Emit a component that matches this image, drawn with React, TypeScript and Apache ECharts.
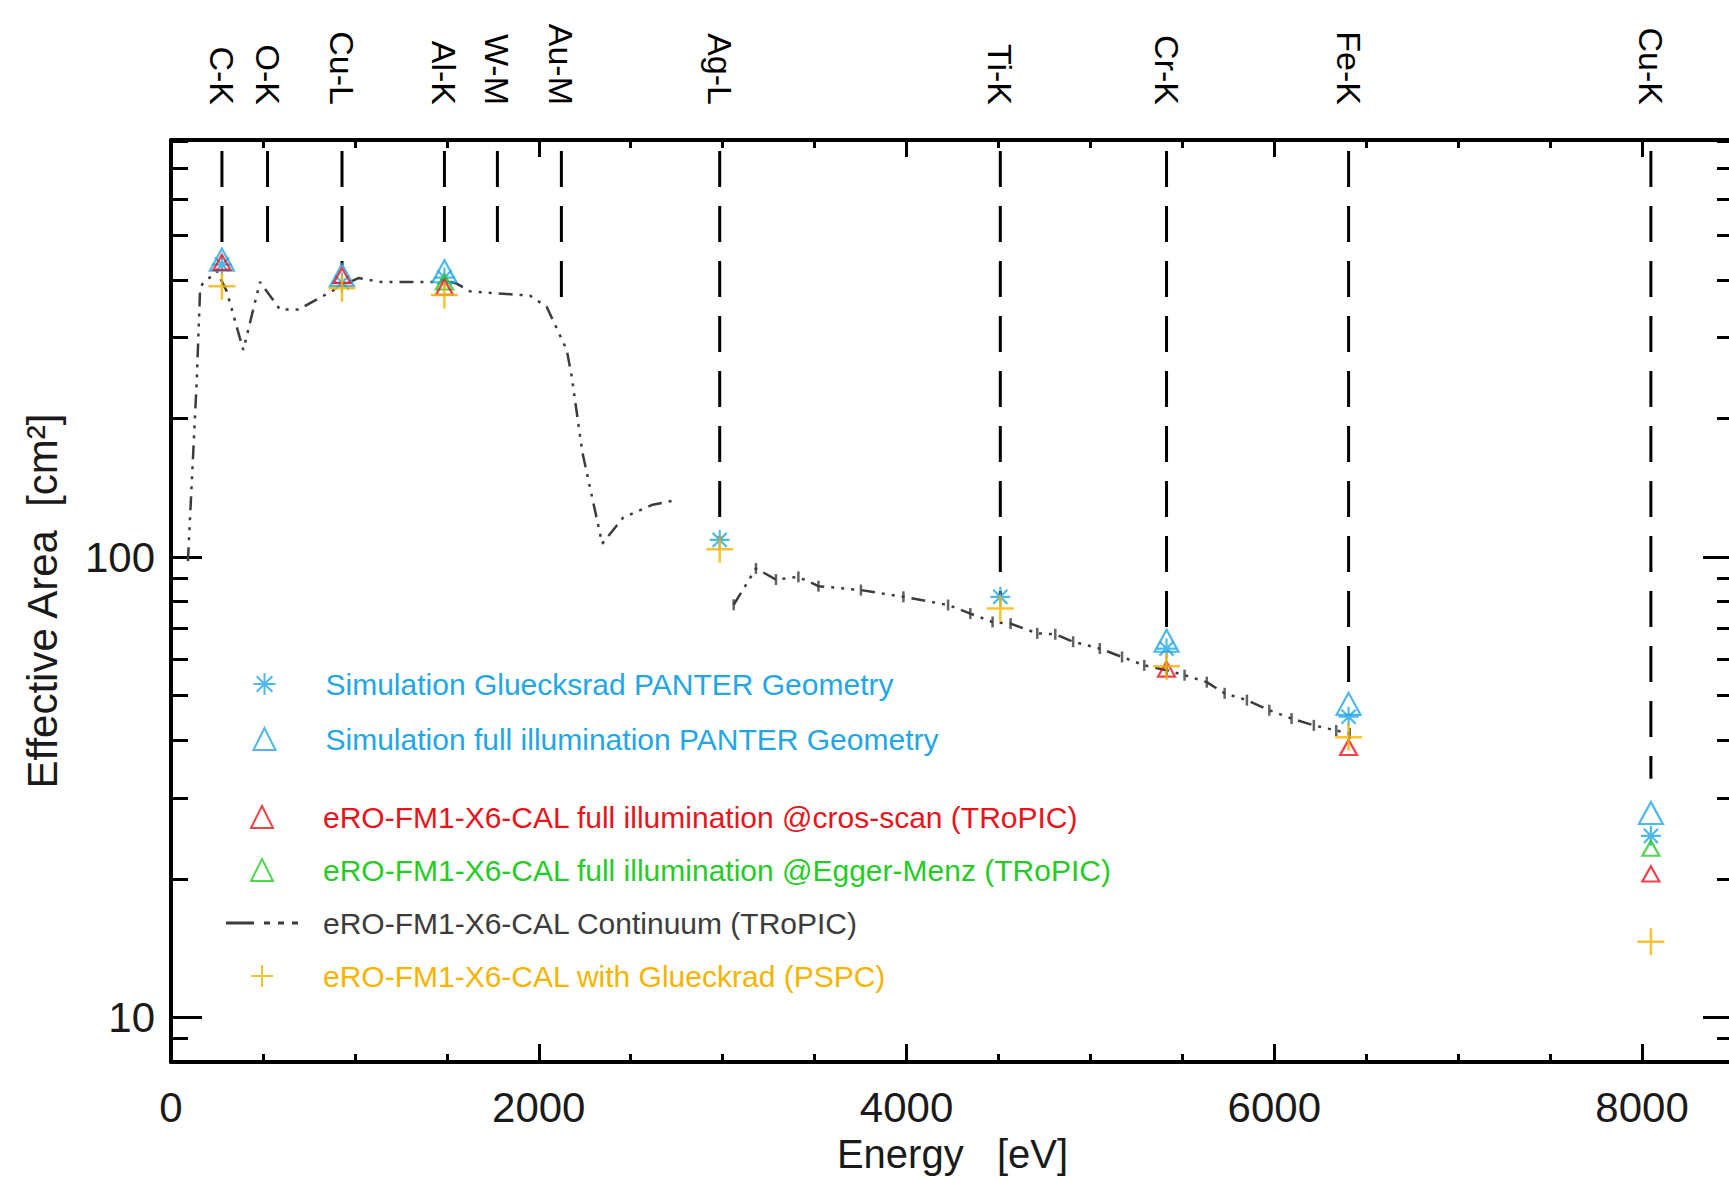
import React, { useEffect, useRef } from "react";
import * as echarts from "echarts";

// ---------- data ----------
const ENERGY_TICKS = [0, 2000, 4000, 6000, 8000];
const ENERGY_MINOR_TICKS = [500, 1000, 1500, 2500, 3000, 3500, 4500, 5000, 5500, 6500, 7000, 7500, 8500];
const AREA_TICKS = [10, 100];
const AREA_MINOR_TICKS = [9, 20, 30, 40, 50, 60, 70, 80, 90, 200, 300, 400, 500, 600, 700, 800];

const ELEMENT_NAMES = ["C-K", "O-K", "Cu-L", "Al-K", "W-M", "Au-M", "Ag-L", "Ti-K", "Cr-K", "Fe-K", "Cu-K"];
const ELEMENT_ENERGIES = [277, 525, 930, 1487, 1775, 2123, 2984, 4510, 5414, 6404, 8048];
const ELEMENT_LINE_ENDS = [455, 470, 430, 440, 445, 366, 109, 82, 68, 50, 33];

const SIM_GLUECKSRAD_E = [277, 930, 1487, 2984, 4510, 5414, 6404, 8048];
const SIM_GLUECKSRAD_A = [432, 395, 405, 109, 82, 63.3, 45, 24.8];

const SIM_FULL_E = [277, 930, 1487, 5414, 6404, 8048];
const SIM_FULL_A = [443, 410, 418, 65.8, 48, 27.8];

const CROSS_SCAN_E = [277, 930, 1487, 5414, 6404, 8048];
const CROSS_SCAN_A = [437, 409, 386, 57.1, 38.6, 20.5];

const EGGER_MENZ_E = [1487, 8048];
const EGGER_MENZ_A = [396, 23.3];

const PSPC_E = [277, 930, 1487, 2984, 4510, 5414, 6404, 8048];
const PSPC_A = [388, 384, 371, 104, 77.3, 57.9, 40.6, 14.6];

const CONT1_E = [92, 140, 158, 170, 250, 303, 393, 484, 593, 692, 910, 1019, 1146, 1418, 1480, 1554, 1626, 1952, 2043, 2152, 2179, 2237, 2345, 2460, 2620, 2745];
const CONT1_A = [98, 242, 380, 392, 418, 378, 282, 396, 345, 345, 385, 404, 396, 396, 400, 393, 378, 370, 350, 282, 247, 169, 107, 122, 130, 133];
const CONT2_E = [3060, 3181, 3290, 3412, 3521, 3752, 3983, 4226, 4347, 4468, 4566, 4711, 4809, 4906, 5051, 5172, 5293, 5415, 5512, 5633, 5730, 5851, 5973, 6094, 6215, 6337, 6410];
const CONT2_A = [78.8, 94.5, 89.4, 90.6, 86.5, 84.8, 82, 78.7, 75.4, 72.3, 71.7, 68.3, 68, 65.5, 63.3, 60.7, 58.2, 56.8, 55.4, 53.5, 50.6, 48.9, 46.5, 44.6, 43.1, 42, 41.4];

const X_MIN = 0;
const X_MAX = 8500;
const Y_MIN = 8;
const Y_MAX = 806;

const NAME_GLUECKSRAD = "Simulation Gluecksrad PANTER Geometry";
const NAME_FULL = "Simulation full illumination PANTER Geometry";
const NAME_CROSS = "eRO-FM1-X6-CAL full illumination @cros-scan (TRoPIC)";
const NAME_EGGER = "eRO-FM1-X6-CAL full illumination @Egger-Menz (TRoPIC)";
const NAME_CONT = "eRO-FM1-X6-CAL Continuum (TRoPIC)";
const NAME_PSPC = "eRO-FM1-X6-CAL with Glueckrad (PSPC)";

// ---------- styles ----------
const FONT = "'Liberation Sans', Arial, sans-serif";
const CYAN = "#22a6e6";
const RED = "#e8141c";
const GREEN = "#25cc25";
const ORANGE = "#f6b400";
const GRAY = "#3c3c3c";

const ASTERISK = "path://M0,-10L0,10M-10,0L10,0M-7.07,-7.07L7.07,7.07M-7.07,7.07L7.07,-7.07";
const PLUS = "path://M-10,0L10,0M0,-10L0,10";
const TRIANGLE = "path://M0,-10L10,10L-10,10Z";
const DASH_DOT_ICON = "path://M0,0h28v3h-28zM38,0h6v3h-6zM52,0h6v3h-6zM66,0h6v3h-6z";

const pairs = (xs: number[], ys: number[]) => xs.map((x, i) => [x, ys[i]]);

function buildOption() {
  const baseX = {
    type: "value",
    min: X_MIN,
    max: X_MAX,
    splitLine: { show: false },
  };
  const baseY = {
    type: "log",
    min: Y_MIN,
    max: Y_MAX,
    splitLine: { show: false },
  };
  const axisLine = { show: true, onZero: false, lineStyle: { color: "#000", width: 4 } };
  const noLine = { show: false, onZero: false };
  const tickStyle = { width: 3, color: "#000" };

  const legendText = (color: string) => ({ color });
  const legendBase = {
    orient: "vertical",
    padding: 0,
    itemWidth: 72,
    itemHeight: 22,
    selectedMode: false,
    symbolKeepAspect: true,
    textStyle: { fontSize: 30, fontFamily: FONT, lineHeight: 30, padding: [0, 0, 0, 20] },
  };

  return {
    animation: false,
    backgroundColor: "#fff",
    grid: { left: 171, right: 6, top: 140, bottom: 117 },
    xAxis: [
      {
        ...baseX,
        position: "bottom",
        axisLine,
        axisTick: { show: true, inside: true, length: 18, lineStyle: tickStyle, customValues: ENERGY_TICKS },
        axisLabel: {
          customValues: ENERGY_TICKS,
          fontSize: 42,
          fontFamily: FONT,
          color: "#1a1a1a",
          margin: 24,
          formatter: (v: number) => String(v),
        },
        name: "Energy   [eV]",
        nameLocation: "middle",
        nameGap: 72,
        nameTextStyle: { fontSize: 40, fontFamily: FONT, color: "#1a1a1a" },
      },
      {
        ...baseX,
        position: "bottom",
        axisLine: noLine,
        axisTick: { show: true, inside: true, length: 8, lineStyle: tickStyle, customValues: ENERGY_MINOR_TICKS },
        axisLabel: { show: false },
      },
      {
        ...baseX,
        position: "top",
        axisLine,
        axisTick: { show: true, inside: true, length: 17, lineStyle: tickStyle, customValues: ENERGY_TICKS },
        axisLabel: { show: false },
      },
      {
        ...baseX,
        position: "top",
        axisLine: noLine,
        axisTick: { show: true, inside: true, length: 8, lineStyle: tickStyle, customValues: ENERGY_MINOR_TICKS },
        axisLabel: { show: false },
      },
      {
        ...baseX,
        position: "top",
        axisLine: noLine,
        axisTick: { show: false },
        axisLabel: {
          customValues: ELEMENT_ENERGIES,
          rotate: 90,
          margin: 35,
          fontSize: 34,
          fontFamily: FONT,
          color: "#000",
          formatter: (v: number) => {
            const i = ELEMENT_ENERGIES.indexOf(v);
            return i >= 0 ? ELEMENT_NAMES[i] : "";
          },
        },
      },
    ],
    yAxis: [
      {
        ...baseY,
        position: "left",
        axisLine,
        axisTick: { show: true, inside: true, length: 31, lineStyle: tickStyle, customValues: AREA_TICKS },
        axisLabel: {
          customValues: AREA_TICKS,
          fontSize: 42,
          fontFamily: FONT,
          color: "#1a1a1a",
          margin: 16,
          formatter: (v: number) => String(v),
        },
        name: "Effective Area  [cm²]",
        nameLocation: "middle",
        nameRotate: 90,
        nameGap: 108,
        nameTextStyle: { fontSize: 42, fontFamily: FONT, color: "#1a1a1a" },
      },
      {
        ...baseY,
        position: "left",
        axisLine: noLine,
        axisTick: { show: true, inside: true, length: 17, lineStyle: tickStyle, customValues: AREA_MINOR_TICKS },
        axisLabel: { show: false },
      },
      {
        ...baseY,
        position: "right",
        axisLine,
        axisTick: { show: true, inside: true, length: 31, lineStyle: tickStyle, customValues: AREA_TICKS },
        axisLabel: { show: false },
      },
      {
        ...baseY,
        position: "right",
        axisLine: noLine,
        axisTick: { show: true, inside: true, length: 17, lineStyle: tickStyle, customValues: AREA_MINOR_TICKS },
        axisLabel: { show: false },
      },
    ],
    legend: [
      {
        ...legendBase,
        left: 251,
        top: 669,
        itemGap: 25,
        data: [
          { name: NAME_GLUECKSRAD, textStyle: legendText(CYAN) },
          { name: NAME_FULL, textStyle: legendText(CYAN) },
        ],
      },
      {
        ...legendBase,
        left: 226,
        top: 802,
        itemGap: 23,
        data: [
          { name: NAME_CROSS, textStyle: legendText(RED) },
          { name: NAME_EGGER, textStyle: legendText(GREEN) },
          { name: NAME_CONT, icon: DASH_DOT_ICON, itemStyle: { color: GRAY, borderWidth: 0 }, textStyle: legendText(GRAY) },
          { name: NAME_PSPC, textStyle: legendText(ORANGE) },
        ],
      },
    ],
    series: [
      {
        name: "element lines",
        type: "custom",
        xAxisIndex: 0,
        yAxisIndex: 0,
        data: pairs(ELEMENT_ENERGIES, ELEMENT_LINE_ENDS),
        encode: { x: 0, y: 1 },
        renderItem: (_params: any, api: any) => {
          const x = api.value(0);
          const top = api.coord([x, Y_MAX]);
          const end = api.coord([x, api.value(1)]);
          return {
            type: "line",
            shape: { x1: top[0], y1: top[1], x2: end[0], y2: end[1] },
            style: { stroke: "#000", lineWidth: 3, lineDash: [36, 19], lineDashOffset: 44, fill: null },
          };
        },
        silent: true,
        z: 1,
      },
      {
        name: NAME_CONT,
        type: "line",
        data: [...pairs(CONT1_E, CONT1_A), [2900, null], ...pairs(CONT2_E, CONT2_A)],
        symbol: "none",
        connectNulls: false,
        lineStyle: { color: GRAY, width: 2.5, type: [14, 7, 3, 7, 3, 7, 3, 7] },
        itemStyle: { color: GRAY },
        z: 2,
      },
      {
        name: "continuum error bars",
        type: "scatter",
        data: pairs(CONT2_E, CONT2_A),
        symbol: "rect",
        symbolSize: [2.5, 11],
        itemStyle: { color: GRAY },
        z: 2,
      },
      {
        name: NAME_GLUECKSRAD,
        type: "scatter",
        data: pairs(SIM_GLUECKSRAD_E, SIM_GLUECKSRAD_A),
        symbol: ASTERISK,
        symbolSize: 20,
        itemStyle: { color: "none", borderColor: CYAN, borderWidth: 2.2 },
        z: 3,
      },
      {
        name: NAME_FULL,
        type: "scatter",
        data: pairs(SIM_FULL_E, SIM_FULL_A),
        symbol: TRIANGLE,
        symbolSize: [24, 22],
        itemStyle: { color: "none", borderColor: CYAN, borderWidth: 2.2 },
        z: 4,
      },
      {
        name: NAME_EGGER,
        type: "scatter",
        data: pairs(EGGER_MENZ_E, EGGER_MENZ_A),
        symbol: TRIANGLE,
        symbolSize: [17, 15],
        itemStyle: { color: "none", borderColor: GREEN, borderWidth: 2.2 },
        z: 5,
      },
      {
        name: NAME_CROSS,
        type: "scatter",
        data: pairs(CROSS_SCAN_E, CROSS_SCAN_A),
        symbol: TRIANGLE,
        symbolSize: [17, 15],
        itemStyle: { color: "none", borderColor: RED, borderWidth: 2.2 },
        z: 6,
      },
      {
        name: NAME_PSPC,
        type: "scatter",
        data: pairs(PSPC_E, PSPC_A),
        symbol: PLUS,
        symbolSize: 27,
        itemStyle: { color: "none", borderColor: ORANGE, borderWidth: 2.5 },
        z: 7,
      },
    ],
  };
}

export default function App() {
  const ref = useRef<HTMLDivElement>(null);
  useEffect(() => {
    if (!ref.current) return;
    const chart = echarts.init(ref.current, undefined, { renderer: "svg" });
    chart.setOption(buildOption() as any);
    return () => chart.dispose();
  }, []);
  return (
    <div
      style={{
        position: "fixed",
        left: 0,
        top: 0,
        width: 1729,
        height: 1179,
        overflow: "hidden",
        background: "#fff",
      }}
    >
      <div ref={ref} style={{ width: 1740, height: 1179 }} />
    </div>
  );
}
